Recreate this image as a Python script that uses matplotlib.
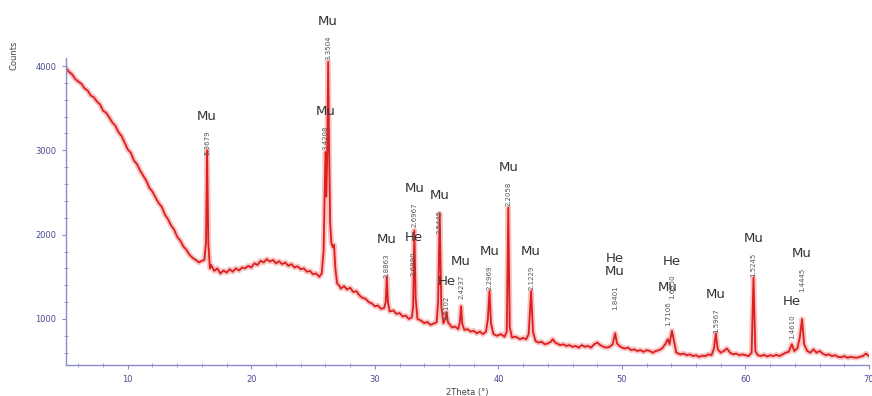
import matplotlib
matplotlib.use("Agg")
import matplotlib.pyplot as plt
from matplotlib.ticker import FixedLocator

# XRD pattern (2theta in degrees, counts)
two_theta = [
    5.00, 5.25, 5.50, 5.75, 6.00, 6.25, 6.50, 6.75, 7.00, 7.25, 7.50, 7.75,
    8.00, 8.25, 8.50, 8.75, 9.00, 9.25, 9.50, 9.75, 10.00, 10.25, 10.50, 10.75,
    11.00, 11.25, 11.50, 11.75, 12.00, 12.25, 12.50, 12.75, 13.00, 13.25, 13.50, 13.75,
    14.00, 14.25, 14.50, 14.75, 15.00, 15.25, 15.50, 15.75, 16.00, 16.20, 16.33, 16.42,
    16.52, 16.65, 16.75, 17.00, 17.25, 17.50, 17.75, 18.00, 18.25, 18.50, 18.75, 19.00,
    19.25, 19.50, 19.75, 20.00, 20.25, 20.50, 20.75, 21.00, 21.25, 21.50, 21.75, 22.00,
    22.25, 22.50, 22.75, 23.00, 23.25, 23.50, 23.75, 24.00, 24.25, 24.50, 24.75, 25.00,
    25.25, 25.50, 25.70, 25.85, 25.95, 26.00, 26.08, 26.15, 26.22, 26.30, 26.38, 26.48,
    26.60, 26.70, 26.80, 26.95, 27.10, 27.25, 27.50, 27.75, 28.00, 28.25, 28.50, 28.75,
    29.00, 29.25, 29.50, 29.75, 30.00, 30.25, 30.50, 30.75, 30.88, 30.97, 31.06, 31.20,
    31.50, 31.75, 32.00, 32.25, 32.50, 32.75, 33.00, 33.10, 33.20, 33.30, 33.45, 33.75,
    34.00, 34.25, 34.50, 34.75, 35.00, 35.12, 35.25, 35.38, 35.55, 35.70, 35.80, 35.92,
    36.25, 36.50, 36.75, 36.88, 36.98, 37.08, 37.25, 37.50, 37.75, 38.00, 38.25, 38.50,
    38.75, 39.00, 39.15, 39.28, 39.40, 39.60, 39.90, 40.20, 40.50, 40.68, 40.80, 40.92,
    41.10, 41.40, 41.75, 42.00, 42.25, 42.45, 42.65, 42.80, 43.00, 43.25, 43.50, 43.75,
    44.00, 44.25, 44.40, 44.60, 45.00, 45.25, 45.50, 45.75, 46.00, 46.25, 46.50, 46.75,
    47.00, 47.25, 47.50, 47.75, 48.00, 48.25, 48.50, 48.75, 49.00, 49.25, 49.45, 49.60,
    49.80, 50.00, 50.25, 50.50, 50.75, 51.00, 51.25, 51.50, 51.75, 52.00, 52.25, 52.50,
    52.75, 53.00, 53.25, 53.50, 53.72, 53.85, 54.05, 54.20, 54.40, 54.75, 55.00, 55.25,
    55.50, 55.75, 56.00, 56.25, 56.50, 56.75, 57.00, 57.25, 57.45, 57.60, 57.75, 58.00,
    58.25, 58.50, 58.75, 59.00, 59.25, 59.50, 59.75, 60.00, 60.25, 60.50, 60.65, 60.80,
    61.00, 61.25, 61.50, 61.75, 62.00, 62.25, 62.50, 62.75, 63.00, 63.25, 63.50, 63.75,
    63.95, 64.20, 64.40, 64.58, 64.75, 65.00, 65.25, 65.50, 65.75, 66.00, 66.25, 66.50,
    66.75, 67.00, 67.25, 67.50, 67.75, 68.00, 68.25, 68.50, 68.75, 69.00, 69.25, 69.50,
    69.75, 70.00,
]
counts = [
    3975, 3930, 3900, 3845, 3815, 3790, 3735, 3710, 3650, 3630, 3580, 3545,
    3470, 3445, 3390, 3330, 3290, 3215, 3170, 3090, 3010, 2970, 2880, 2835,
    2760, 2700, 2640, 2555, 2510, 2440, 2375, 2330, 2240, 2185, 2110, 2060,
    1975, 1930, 1860, 1820, 1760, 1725, 1700, 1670, 1690, 1700, 1900, 3000,
    1900, 1600, 1640, 1570, 1600, 1540, 1575, 1550, 1590, 1560, 1600, 1575,
    1610, 1600, 1630, 1610, 1660, 1640, 1690, 1670, 1710, 1680, 1700, 1660,
    1685, 1650, 1670, 1630, 1650, 1610, 1625, 1590, 1600, 1560, 1570, 1530,
    1540, 1500, 1540, 1800, 2600, 2980, 2450, 3000, 4050, 3000, 2150, 1900,
    1850, 1880, 1600, 1420, 1400, 1360, 1390, 1350, 1370, 1320, 1330, 1280,
    1250, 1240, 1200, 1185, 1150, 1160, 1120, 1130, 1200, 1500, 1200, 1090,
    1100, 1060, 1070, 1030, 1040, 1000, 1020, 1150, 2050, 1250, 1000, 980,
    950, 965, 930, 945, 960, 1200, 2250, 1150, 950, 1000, 1080, 960,
    900, 910, 880, 960, 1150, 940, 870, 880, 850, 860, 830, 850,
    820, 850, 1000, 1330, 950, 820, 800, 820, 790, 850, 2320, 900,
    780, 790, 760, 775, 760, 820, 1330, 850, 740, 720, 730, 700,
    710, 730, 760, 720, 690, 700, 680, 690, 670, 680, 660, 690,
    670, 680, 660, 700, 720, 690, 670, 660, 670, 700, 830, 710,
    680, 660, 650, 660, 630, 640, 620, 630, 610, 630, 620, 600,
    620, 630, 650, 700, 760, 700, 860, 750, 600, 580, 590, 570,
    580, 560, 570, 550, 565, 560, 580, 570, 650, 830, 640, 600,
    620, 650, 600, 580, 590, 570, 580, 570, 560, 600, 1490, 620,
    570, 560, 575, 555, 570, 560, 575, 560, 580, 600, 610, 700,
    620, 650, 780, 1000, 700, 620, 600, 640, 600, 620, 590, 570,
    580, 560, 570, 550, 545, 560, 540, 550, 545, 540, 550, 560,
    590, 560,
]

# peak labels: position, height of label anchor, phase, d-spacing
label_pos = [16.42, 26.22, 26.00, 30.97, 33.20, 33.15, 35.25, 35.80, 36.98, 39.28,
             40.80, 42.65, 49.45, 53.72, 54.05, 57.60, 60.65, 63.75, 64.58]
label_counts = [2930, 4060, 2990, 1475, 2070, 1490, 1990, 975, 1215, 1330,
                2320, 1330, 1095, 895, 1215, 820, 1485, 740, 1300]
label_phase = ["Mu", "Mu", "Mu", "Mu", "Mu", "He", "Mu", "He", "Mu", "Mu",
               "Mu", "Mu", "He\nMu", "Mu", "He", "Mu", "Mu", "He", "Mu"]
label_d = ["5.3679", "3.3504", "3.4208", "2.8863", "2.6967", "2.6990", "2.5445",
           "2.5102", "2.4237", "2.2969", "2.2058", "2.1229", "1.8401", "1.7106",
           "1.6950", "1.5967", "1.5245", "1.4610", "1.4445"]

x_ticks = [10, 20, 30, 40, 50, 60, 70]
y_ticks = [1000, 2000, 3000, 4000]

fig = plt.figure(figsize=(8.72, 3.96), dpi=100)
ax = fig.add_axes([66 / 872, 31 / 396, 803 / 872, 365 / 396])

# soft halo first, then the trace, to get the fuzzy look of a dense scan
ax.plot(two_theta, counts, color="#f28b8b", lw=4.0, alpha=0.5)
ax.plot(two_theta, counts, color="#dc1f1f", lw=1.3)

for x, y, ph, d in zip(label_pos, label_counts, label_phase, label_d):
    ax.annotate(d, (x, y), xytext=(0, 1), textcoords="offset points",
                rotation=90, ha="center", va="bottom", fontsize=5, color="#555555")
    ax.annotate(ph, (x, y), xytext=(0, 24), textcoords="offset points",
                ha="center", va="bottom", fontsize=9.5, color="#333333",
                linespacing=1.0)

ax.set_xlim(5, 70)
ax.set_ylim(454, 4783)
ax.set_xticks(x_ticks)
ax.set_yticks(y_ticks)
ax.xaxis.set_minor_locator(FixedLocator(range(6, 70, 2)))
ax.yaxis.set_minor_locator(FixedLocator(range(600, 4001, 200)))

for side in ["top", "right"]:
    ax.spines[side].set_visible(False)
for side in ["left", "bottom"]:
    ax.spines[side].set_color("#8c8cc8")
    ax.spines[side].set_linewidth(1.0)
ax.spines["left"].set_bounds(454, 4090)

ax.tick_params(which="major", direction="out", length=3, width=0.8,
               color="#8c8cc8", labelsize=6, labelcolor="#4a4a96", pad=4)
ax.tick_params(which="minor", direction="inout", length=3, width=0.6,
               color="#8c8cc8")

ax.set_xlabel("2Theta (°)", fontsize=6, color="#444444", labelpad=3)
fig.text(14 / 872, 1 - 55 / 396, "Counts", rotation=90, fontsize=6,
         color="#444444", ha="center", va="center")

fig.savefig("out.png", dpi=100)
